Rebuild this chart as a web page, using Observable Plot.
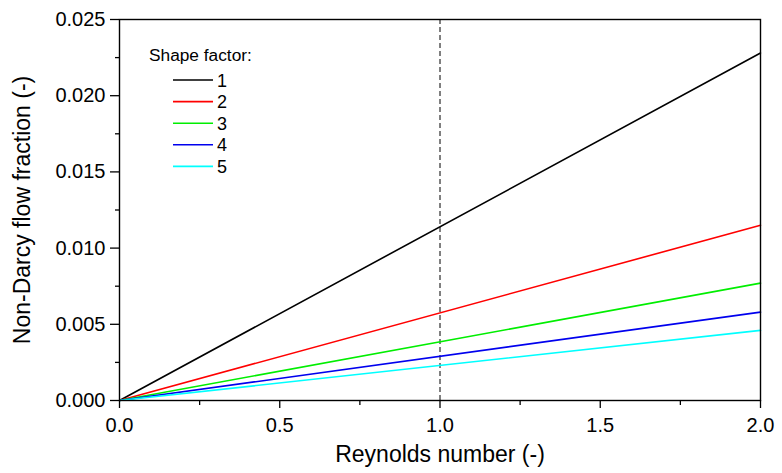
<!DOCTYPE html>
<html>
<head>
<meta charset="utf-8">
<script src="https://cdn.jsdelivr.net/npm/d3@7"></script>
<script src="https://cdn.jsdelivr.net/npm/@observablehq/plot@0.6"></script>
<style>
  html, body { margin: 0; padding: 0; background: #fff; }
  #wrap { position: relative; width: 782px; height: 473px; font-family: "Liberation Sans", Arial, sans-serif; }
  #legend { position: absolute; left: 0; top: 0; }
</style>
</head>
<body>
<div id="wrap"></div>
<script>
// ---- data ----
const shapeFactors = ["1", "2", "3", "4", "5"];
const colors = ["#000000", "#ff0000", "#00ee00", "#0000ee", "#00ffff"];
const reynolds = [0, 2];
const fractionAt0 = [0, 0, 0, 0, 0];
const fractionAt2 = [0.0228, 0.0115, 0.0077, 0.0058, 0.0046];
const xTicks = [0, 0.5, 1, 1.5, 2];
const xMinor = [0.25, 0.75, 1.25, 1.75];
const yTicks = [0, 0.005, 0.01, 0.015, 0.02, 0.025];
const yMinor = [0.0025, 0.0075, 0.0125, 0.0175, 0.0225];
const refLineX = [1];
const legendTitle = "Shape factor:";

const rows = [];
shapeFactors.forEach((s, i) => {
  rows.push({sf: s, x: reynolds[0], y: fractionAt0[i]});
  rows.push({sf: s, x: reynolds[1], y: fractionAt2[i]});
});

const font = "Liberation Sans, Arial, sans-serif";
const chart = Plot.plot({
  width: 782,
  height: 473,
  marginLeft: 119,
  marginRight: 22,
  marginTop: 19,
  marginBottom: 73,
  style: {fontFamily: font, fontSize: "20px", color: "#000", background: "#fff"},
  x: {domain: [0, 2]},
  y: {domain: [0, 0.025]},
  color: {domain: shapeFactors, range: colors},
  marks: [
    Plot.ruleX(refLineX, {y1: 0, y2: 0.025, stroke: "#000", strokeWidth: 1, strokeDasharray: "5,3"}),
    Plot.line(rows, {x: "x", y: "y", z: "sf", stroke: "sf", strokeWidth: 1.6}),
    Plot.frame({stroke: "#000", strokeWidth: 1.4}),
    Plot.axisX(xTicks, {tickSize: 8, tickPadding: 9, tickFormat: d3.format(".1f"), strokeWidth: 1.3, fontSize: 20, label: null}),
    Plot.axisX({tickSize: 0, ticks: [], label: "Reynolds number (-)", labelAnchor: "center", labelArrow: "none", labelOffset: 61, fontSize: 23}),
    Plot.axisX(xMinor, {tickSize: 5, text: null, label: null, strokeWidth: 1.3}),
    Plot.axisY(yTicks, {tickSize: 9, tickPadding: 5, tickFormat: d3.format(".3f"), strokeWidth: 1.3, fontSize: 20, label: null}),
    Plot.axisY({tickSize: 0, ticks: [], label: "Non-Darcy flow fraction (-)", labelAnchor: "center", labelArrow: "none", labelOffset: 106, fontSize: 23}),
    Plot.axisY(yMinor, {tickSize: 4, text: null, label: null, strokeWidth: 1.3})
  ]
});
document.getElementById("wrap").appendChild(chart);

// ---- legend overlay ----
const leg = d3.select("#wrap").append("svg").attr("id", "legend")
  .attr("width", 782).attr("height", 473)
  .style("font-family", font);
leg.append("text").attr("x", 149).attr("y", 61).attr("font-size", 17.3).attr("fill", "#000").text(legendTitle);
shapeFactors.forEach((s, i) => {
  const y = 80 + i * 21.6;
  leg.append("line").attr("x1", 173).attr("x2", 213).attr("y1", y).attr("y2", y)
    .attr("stroke", colors[i]).attr("stroke-width", 1.6);
  leg.append("text").attr("x", 217).attr("y", y + 6.5).attr("font-size", 18).attr("fill", "#000").text(s);
});
</script>
</body>
</html>
